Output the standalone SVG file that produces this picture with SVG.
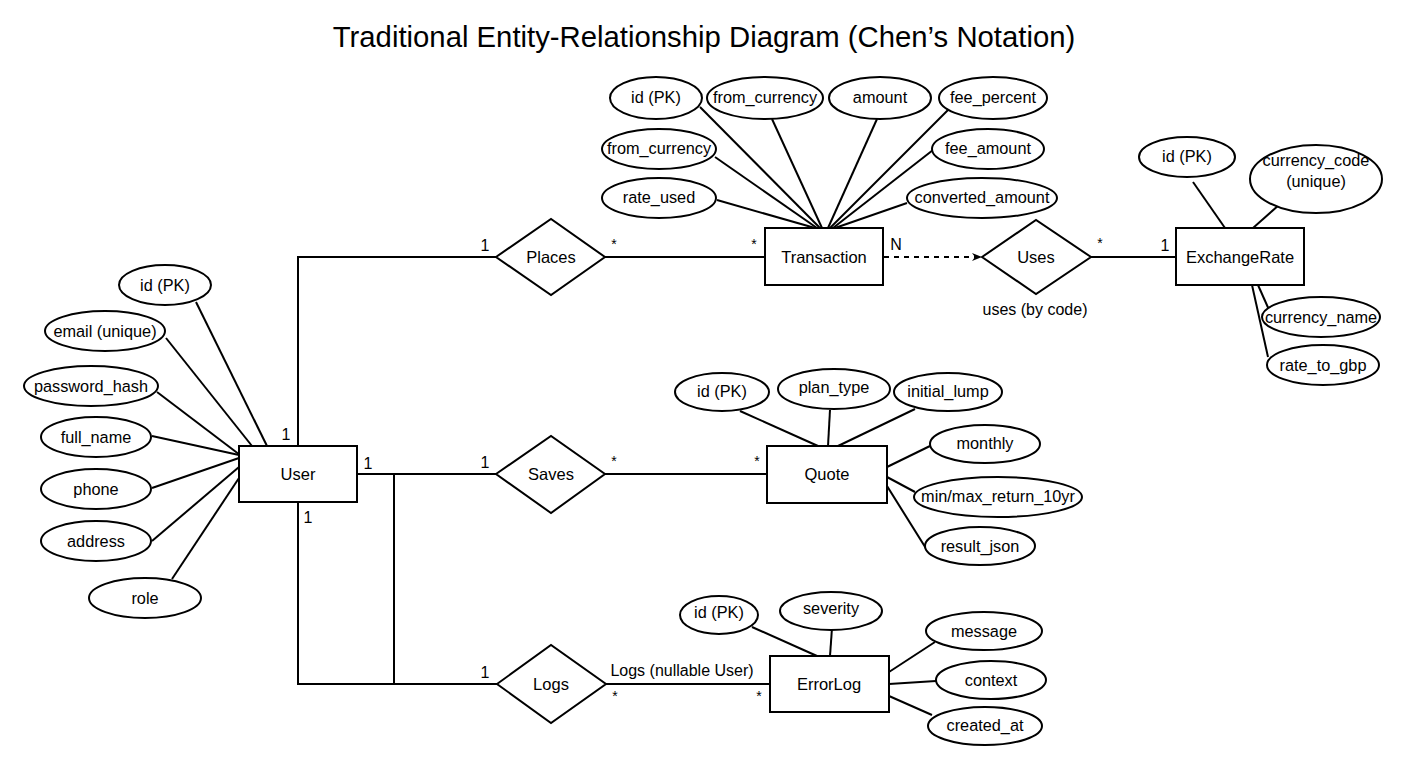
<svg xmlns="http://www.w3.org/2000/svg" width="1408" height="768" viewBox="0 0 1408 768">
<style>
text{font-family:"Liberation Sans",Arial,Helvetica,sans-serif;fill:#000}
.t{font-size:16.5px;text-anchor:middle;dominant-baseline:central}
.a{font-size:16.3px;text-anchor:middle;dominant-baseline:central}
.c{font-size:16px}
.s{font-size:14px}
.title{font-size:29.3px;text-anchor:middle}
.e{fill:#fff;stroke:#000;stroke-width:2}
.r{fill:#fff;stroke:#000;stroke-width:2}
.d{fill:#fff;stroke:#000;stroke-width:2}
.l{stroke:#000;stroke-width:2;fill:none}
.dash{stroke:#000;stroke-width:2;fill:none;stroke-dasharray:5,5}
</style>
<defs>
<marker id="arr" markerWidth="10" markerHeight="10" refX="9" refY="5" orient="auto" markerUnits="userSpaceOnUse">
<path d="M0,1 L10,5 L0,9 L3,5 Z" fill="#000"/>
</marker>
</defs>
<rect width="1408" height="768" fill="#fff"/>
<text class="title" x="704" y="47">Traditional Entity-Relationship Diagram (Chen’s Notation)</text>

<g id="connectors">
<!-- User attributes -->
<line class="l" x1="196" y1="302" x2="267" y2="446"/>
<line class="l" x1="166" y1="338" x2="252" y2="446"/>
<line class="l" x1="157" y1="392" x2="240" y2="455"/>
<line class="l" x1="152" y1="436" x2="239" y2="455"/>
<line class="l" x1="152" y1="488" x2="239" y2="458"/>
<line class="l" x1="152" y1="541" x2="239" y2="467"/>
<line class="l" x1="172" y1="579" x2="239" y2="478"/>
<!-- Transaction attributes -->
<line class="l" x1="700" y1="107" x2="820" y2="228"/>
<line class="l" x1="772" y1="119" x2="822" y2="228"/>
<line class="l" x1="877" y1="119" x2="828" y2="228"/>
<line class="l" x1="950" y1="108" x2="830" y2="228"/>
<line class="l" x1="715" y1="157" x2="817" y2="228"/>
<line class="l" x1="933" y1="150" x2="833" y2="228"/>
<line class="l" x1="717" y1="200" x2="815" y2="228"/>
<line class="l" x1="907" y1="203" x2="835" y2="228"/>
<!-- ExchangeRate attributes -->
<line class="l" x1="1193" y1="182" x2="1225" y2="228"/>
<line class="l" x1="1288" y1="197" x2="1253" y2="228"/>
<line class="l" x1="1270" y1="312" x2="1258" y2="285"/>
<line class="l" x1="1268" y1="357" x2="1252" y2="285"/>
<!-- Quote attributes -->
<line class="l" x1="740" y1="411" x2="818" y2="446"/>
<line class="l" x1="830" y1="410" x2="828" y2="446"/>
<line class="l" x1="915" y1="409" x2="838" y2="446"/>
<line class="l" x1="930" y1="446" x2="887" y2="467"/>
<line class="l" x1="915" y1="492" x2="887" y2="477"/>
<line class="l" x1="927" y1="550" x2="887" y2="486"/>
<!-- ErrorLog attributes -->
<line class="l" x1="752" y1="627" x2="817" y2="656"/>
<line class="l" x1="832" y1="628" x2="830" y2="656"/>
<line class="l" x1="935" y1="642" x2="889" y2="672"/>
<line class="l" x1="936" y1="681" x2="889" y2="684"/>
<line class="l" x1="932" y1="715" x2="889" y2="696"/>
<!-- Relationships -->
<polyline class="l" points="298,446 298,257 496,257"/>
<line class="l" x1="605" y1="257" x2="765" y2="257"/>
<line class="l" x1="357" y1="474" x2="496" y2="474"/>
<line class="l" x1="605" y1="474" x2="767" y2="474"/>
<polyline class="l" points="298,502 298,684 497,684"/>
<line class="l" x1="394" y1="474" x2="394" y2="684"/>
<line class="l" x1="606" y1="684" x2="770" y2="684"/>
<line class="dash" x1="884" y1="257" x2="981" y2="257" marker-end="url(#arr)"/>
<line class="l" x1="1091" y1="257" x2="1176" y2="257"/>
</g>

<g id="labels">
<text class="c" x="286" y="440" text-anchor="middle">1</text>
<text class="c" x="368" y="469" text-anchor="middle">1</text>
<text class="c" x="308" y="523" text-anchor="middle">1</text>
<text class="c" x="485" y="251" text-anchor="middle">1</text>
<text class="s" x="614" y="249" text-anchor="middle">*</text>
<text class="s" x="754" y="249" text-anchor="middle">*</text>
<text class="c" x="485" y="468" text-anchor="middle">1</text>
<text class="s" x="614" y="466" text-anchor="middle">*</text>
<text class="s" x="757" y="466" text-anchor="middle">*</text>
<text class="c" x="485" y="678" text-anchor="middle">1</text>
<text class="c" x="682" y="676" text-anchor="middle">Logs (nullable User)</text>
<text class="s" x="615" y="701" text-anchor="middle">*</text>
<text class="s" x="759" y="701" text-anchor="middle">*</text>
<text class="c" x="896" y="250" text-anchor="middle">N</text>
<text class="c" x="1035" y="315" text-anchor="middle">uses (by code)</text>
<text class="s" x="1100" y="248" text-anchor="middle">*</text>
<text class="c" x="1165" y="251" text-anchor="middle">1</text>
</g>

<g id="User"><rect class="r" x="239" y="446" width="118" height="56"/><text class="t" x="298" y="474">User</text></g>
<g id="Transaction"><rect class="r" x="765" y="228" width="118" height="57"/><text class="t" x="824" y="257">Transaction</text></g>
<g id="ExchangeRate"><rect class="r" x="1176" y="228" width="128" height="57"/><text class="t" x="1240" y="257">ExchangeRate</text></g>
<g id="Quote"><rect class="r" x="767" y="446" width="120" height="57"/><text class="t" x="827" y="474">Quote</text></g>
<g id="ErrorLog"><rect class="r" x="770" y="656" width="119" height="56"/><text class="t" x="829" y="684">ErrorLog</text></g>

<g id="Places"><polygon class="d" points="496,257 551,219 605,257 551,295"/><text class="t" x="551" y="257">Places</text></g>
<g id="Saves"><polygon class="d" points="496,474 551,436 605,474 551,513"/><text class="t" x="551" y="474">Saves</text></g>
<g id="Logs"><polygon class="d" points="497,684 551,645 606,684 551,723"/><text class="t" x="551" y="684">Logs</text></g>
<g id="Uses"><polygon class="d" points="982,257 1036,220 1091,257 1036,294"/><text class="t" x="1036" y="257">Uses</text></g>

<g id="user-id"><ellipse class="e" cx="165" cy="285" rx="46" ry="20"/><text class="a" x="165" y="285">id (PK)</text></g>
<g id="user-email"><ellipse class="e" cx="105" cy="331" rx="60" ry="20"/><text class="a" x="105" y="331">email (unique)</text></g>
<g id="user-password"><ellipse class="e" cx="91" cy="386" rx="67" ry="20"/><text class="a" x="91" y="386">password_hash</text></g>
<g id="user-fullname"><ellipse class="e" cx="96" cy="437" rx="55" ry="20"/><text class="a" x="96" y="437">full_name</text></g>
<g id="user-phone"><ellipse class="e" cx="96" cy="489" rx="55" ry="20"/><text class="a" x="96" y="489">phone</text></g>
<g id="user-address"><ellipse class="e" cx="96" cy="541" rx="55" ry="20"/><text class="a" x="96" y="541">address</text></g>
<g id="user-role"><ellipse class="e" cx="145" cy="598" rx="56" ry="20"/><text class="a" x="145" y="598">role</text></g>

<g id="tx-id"><ellipse class="e" cx="656" cy="98" rx="46" ry="21"/><text class="a" x="656" y="97">id (PK)</text></g>
<g id="tx-from1"><ellipse class="e" cx="765" cy="98" rx="58" ry="21"/><text class="a" x="765" y="97">from_currency</text></g>
<g id="tx-amount"><ellipse class="e" cx="880" cy="98" rx="51" ry="21"/><text class="a" x="880" y="97">amount</text></g>
<g id="tx-feepercent"><ellipse class="e" cx="993" cy="98" rx="54" ry="21"/><text class="a" x="993" y="97">fee_percent</text></g>
<g id="tx-from2"><ellipse class="e" cx="659" cy="149" rx="57" ry="20"/><text class="a" x="659" y="148">from_currency</text></g>
<g id="tx-feeamount"><ellipse class="e" cx="988" cy="149" rx="56" ry="20"/><text class="a" x="988" y="148">fee_amount</text></g>
<g id="tx-rate"><ellipse class="e" cx="659" cy="198" rx="57" ry="20"/><text class="a" x="659" y="197">rate_used</text></g>
<g id="tx-converted"><ellipse class="e" cx="982" cy="198" rx="75" ry="20"/><text class="a" x="982" y="197">converted_amount</text></g>

<g id="er-id"><ellipse class="e" cx="1187" cy="157" rx="48" ry="20"/><text class="a" x="1187" y="156">id (PK)</text></g>
<g id="er-code"><ellipse class="e" cx="1316" cy="179" rx="66" ry="34"/><text class="a" x="1316" y="160">currency_code</text><text class="a" x="1316" y="181">(unique)</text></g>
<g id="er-name"><ellipse class="e" cx="1321" cy="317" rx="59" ry="20"/><text class="a" x="1321" y="317">currency_name</text></g>
<g id="er-rate"><ellipse class="e" cx="1323" cy="365" rx="56" ry="20"/><text class="a" x="1323" y="365">rate_to_gbp</text></g>

<g id="q-id"><ellipse class="e" cx="722" cy="392" rx="47" ry="19"/><text class="a" x="722" y="391">id (PK)</text></g>
<g id="q-plan"><ellipse class="e" cx="834" cy="389" rx="56" ry="20"/><text class="a" x="834" y="387">plan_type</text></g>
<g id="q-lump"><ellipse class="e" cx="948" cy="392" rx="54" ry="19"/><text class="a" x="948" y="391">initial_lump</text></g>
<g id="q-monthly"><ellipse class="e" cx="985" cy="444" rx="55" ry="19"/><text class="a" x="985" y="443">monthly</text></g>
<g id="q-minmax"><ellipse class="e" cx="998" cy="497" rx="84" ry="20"/><text class="a" x="998" y="496">min/max_return_10yr</text></g>
<g id="q-result"><ellipse class="e" cx="980" cy="546" rx="55" ry="19"/><text class="a" x="980" y="546">result_json</text></g>

<g id="el-id"><ellipse class="e" cx="719" cy="615" rx="39" ry="19"/><text class="a" x="719" y="612">id (PK)</text></g>
<g id="el-severity"><ellipse class="e" cx="831" cy="611" rx="51" ry="19"/><text class="a" x="831" y="608">severity</text></g>
<g id="el-message"><ellipse class="e" cx="984" cy="631" rx="58" ry="19"/><text class="a" x="984" y="631">message</text></g>
<g id="el-context"><ellipse class="e" cx="991" cy="680" rx="55" ry="19"/><text class="a" x="991" y="680">context</text></g>
<g id="el-created"><ellipse class="e" cx="985" cy="726" rx="57" ry="19"/><text class="a" x="985" y="725">created_at</text></g>
</svg>
